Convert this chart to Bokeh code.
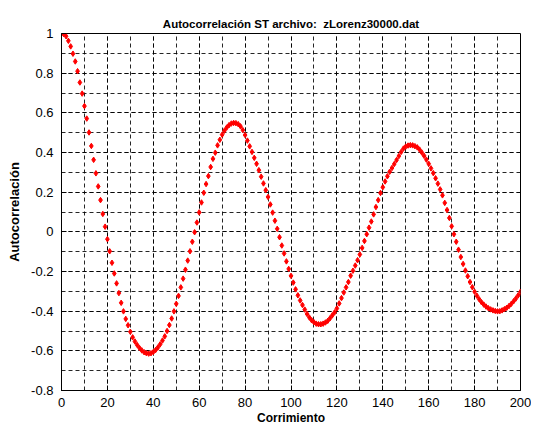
from bokeh.plotting import figure
from bokeh.models import Range1d, FixedTicker
from bokeh.embed import file_html
from bokeh.resources import INLINE

lags = list(range(0, 201))
acf = [
    1.000, 0.997, 0.986, 0.963, 0.935, 0.898, 0.859, 0.810, 0.753, 0.697,
    0.634, 0.571, 0.501, 0.433, 0.363, 0.295, 0.229, 0.160, 0.090, 0.026,
    -0.037, -0.098, -0.156, -0.210, -0.260, -0.309, -0.358, -0.401, -0.439, -0.471,
    -0.504, -0.532, -0.553, -0.571, -0.586, -0.598, -0.607, -0.612, -0.614, -0.612,
    -0.606, -0.596, -0.583, -0.567, -0.548, -0.527, -0.500, -0.470, -0.437, -0.401,
    -0.363, -0.323, -0.280, -0.236, -0.191, -0.145, -0.098, -0.050, -0.002, 0.047,
    0.098, 0.148, 0.197, 0.241, 0.281, 0.327, 0.368, 0.399, 0.436, 0.464,
    0.490, 0.510, 0.526, 0.538, 0.546, 0.549, 0.548, 0.543, 0.532, 0.513,
    0.488, 0.460, 0.431, 0.403, 0.373, 0.343, 0.311, 0.278, 0.244, 0.210,
    0.176, 0.138, 0.097, 0.056, 0.015, -0.027, -0.069, -0.109, -0.149, -0.187,
    -0.222, -0.256, -0.290, -0.320, -0.346, -0.369, -0.392, -0.414, -0.432, -0.446,
    -0.456, -0.463, -0.466, -0.466, -0.463, -0.457, -0.449, -0.436, -0.421, -0.406,
    -0.386, -0.361, -0.334, -0.306, -0.280, -0.253, -0.221, -0.196, -0.170, -0.143,
    -0.114, -0.081, -0.046, -0.012, 0.021, 0.052, 0.088, 0.125, 0.160, 0.196,
    0.225, 0.254, 0.280, 0.303, 0.322, 0.342, 0.362, 0.382, 0.403, 0.420,
    0.430, 0.435, 0.437, 0.436, 0.432, 0.426, 0.415, 0.400, 0.383, 0.364,
    0.343, 0.320, 0.296, 0.270, 0.243, 0.214, 0.184, 0.146, 0.110, 0.070,
    0.028, -0.012, -0.050, -0.090, -0.127, -0.162, -0.195, -0.224, -0.253, -0.279,
    -0.302, -0.322, -0.340, -0.355, -0.367, -0.377, -0.385, -0.391, -0.396, -0.399,
    -0.401, -0.400, -0.396, -0.390, -0.383, -0.374, -0.363, -0.350, -0.336, -0.320,
    -0.302,
]

x_ticks = [0, 20, 40, 60, 80, 100, 120, 140, 160, 180, 200]
x_minor = [0, 10, 20, 30, 40, 50, 60, 70, 80, 90, 100, 110, 120, 130, 140, 150, 160, 170, 180, 190, 200]
y_ticks = [-0.8, -0.6, -0.4, -0.2, 0.0, 0.2, 0.4, 0.6, 0.8, 1.0]
y_tick_labels = ["-0.8", "-0.6", "-0.4", "-0.2", "0", "0.2", "0.4", "0.6", "0.8", "1"]
y_minor = [-0.8, -0.7, -0.6, -0.5, -0.4, -0.3, -0.2, -0.1, 0.0, 0.1, 0.2, 0.3, 0.4, 0.5, 0.6, 0.7, 0.8, 0.9, 1.0]

FONT = "Liberation Sans"

p = figure(width=531, height=427, output_backend="svg", toolbar_location=None,
           x_range=Range1d(0, 200), y_range=Range1d(-0.8, 1.0),
           title="Autocorrelación ST archivo:\u00a0 zLorenz30000.dat",
           min_border_left=61, min_border_right=11, min_border_top=33, min_border_bottom=35)

p.title.align = "center"
p.title.vertical_align = "middle"
p.title.text_font = FONT
p.title.text_font_size = "11.5px"
p.title.text_font_style = "bold"
p.title.text_color = "#000000"
p.title.standoff = 6

p.background_fill_color = "white"
p.border_fill_color = "white"
p.outline_line_color = "black"
p.outline_line_width = 1

xt = FixedTicker(ticks=x_ticks, minor_ticks=x_minor)
yt = FixedTicker(ticks=y_ticks, minor_ticks=y_minor)

p.xaxis.ticker = xt
p.yaxis.ticker = yt
p.yaxis.major_label_overrides = {v: s for v, s in zip(y_ticks, y_tick_labels)}

for ax in (p.xaxis, p.yaxis):
    ax.major_tick_in = 5
    ax.major_tick_out = 0
    ax.minor_tick_line_color = None
    ax.major_label_text_font = FONT
    ax.major_label_text_font_size = "13px"
    ax.major_label_text_color = "#000000"
    ax.axis_label_text_font = FONT
    ax.axis_label_text_font_style = "bold"
    ax.axis_label_text_color = "#000000"
    ax.axis_line_color = "black"
    ax.major_tick_line_color = "black"

p.xaxis.axis_label = "Corrimiento"
p.yaxis.axis_label = "Autocorrelación"
p.xaxis.axis_label_text_font_size = "12px"
p.yaxis.axis_label_text_font_size = "13px"
p.xaxis.major_label_standoff = 3
p.yaxis.major_label_standoff = 4
p.xaxis.axis_label_standoff = 1
p.yaxis.axis_label_standoff = 6

for g, t in ((p.xgrid, xt), (p.ygrid, yt)):
    g.ticker = t
    g.grid_line_color = "black"
    g.grid_line_dash = "4 3"
    g.grid_line_alpha = 0.85
    g.minor_grid_line_color = "black"
    g.minor_grid_line_dash = "4 3"
    g.minor_grid_line_alpha = 0.85

p.scatter(lags, acf, marker="diamond", size=5.5, fill_color="#ff0000",
          line_color="#ff0000", line_width=1)

open("out.html", "w").write(file_html(p, INLINE))
